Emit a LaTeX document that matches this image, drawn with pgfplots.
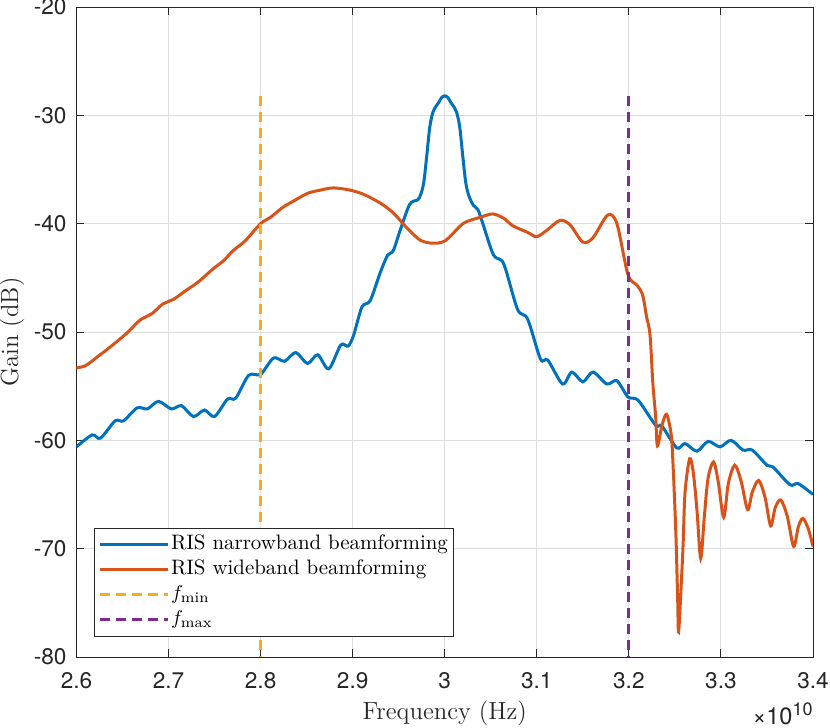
\documentclass[border=0pt]{standalone}
\usepackage{fontspec}
\newfontfamily\heros{TeX Gyre Heros}
\usepackage{pgfplots}
\pgfplotsset{compat=1.18}
\definecolor{mblue}{rgb}{0,0.447,0.741}
\definecolor{morange}{rgb}{0.850,0.325,0.098}
\definecolor{myellow}{rgb}{0.929,0.694,0.125}
\definecolor{mpurple}{rgb}{0.494,0.184,0.556}
\definecolor{axgray}{rgb}{0.15,0.15,0.15}
\begin{document}
\begin{tikzpicture}
\useasboundingbox (-38.25pt,-35.5pt) rectangle (376.75pt,328.5pt);
\begin{axis}[
  scale only axis, width=368.25pt, height=325pt,
  at={(0,0)}, anchor=south west,
  xmin=2.6, xmax=3.4, ymin=-80, ymax=-20,
  xtick={2.6,2.7,2.8,2.9,3.0,3.1,3.2,3.3,3.4},
  xticklabels={2.6,2.7,2.8,2.9,3,3.1,3.2,3.3,3.4},
  ytick={-80,-70,-60,-50,-40,-30,-20},
  yticklabels={-80,-70,-60,-50,-40,-30,-20},
  tick align=inside, xtick pos=both, ytick pos=both,
  major tick length=4pt,
  grid=major, major grid style={black!13, line width=0.5pt},
  axis line style={axgray, line width=0.5pt},
  every tick/.style={axgray, line width=0.5pt},
  tick label style={font=\fontsize{11.3}{13}\selectfont\heros, text=axgray},
  xticklabel style={yshift=-4pt},
  yticklabel style={xshift=-1.5pt},
  xlabel={Frequency (Hz)}, ylabel={Gain (dB)},
  label style={font=\fontsize{12.4}{14}\selectfont, text=axgray},
  xlabel style={at={(axis description cs:0.5,-0.086)}, anchor=center},
  ylabel style={at={(axis description cs:-0.0876,0.5)}, anchor=center},
  legend style={at={(axis description cs:0.0238,0.0308)}, anchor=south west,
    draw=axgray, line width=0.5pt, fill=white,
    font=\fontsize{10.45}{12}\selectfont,
    inner xsep=2pt, inner ysep=2pt, row sep=0pt,
    nodes={text height=8pt, text depth=3pt, inner sep=0.75pt}},
  legend cell align=left,
  legend image code/.code={\draw[#1] (0pt,0pt) -- (34pt,0pt);},
]
\addplot[mblue, line width=1.5pt, smooth] coordinates {
(2.600,-60.6) (2.617,-59.5) (2.626,-59.8) (2.642,-58.2) (2.651,-58.2)
(2.666,-57.0) (2.677,-57.1) (2.689,-56.4) (2.703,-57.1) (2.714,-56.8)
(2.727,-57.8) (2.739,-57.2) (2.750,-57.8) (2.764,-56.2) (2.773,-56.1)
(2.787,-54.0) (2.800,-53.9) (2.814,-52.4) (2.826,-52.7) (2.838,-51.9)
(2.851,-52.9) (2.862,-52.1) (2.874,-53.4) (2.887,-51.2) (2.895,-51.3)
(2.901,-50.3) (2.910,-47.7) (2.919,-47.1) (2.930,-44.5) (2.938,-42.9)
(2.944,-42.5) (2.952,-40.5) (2.962,-38.2) (2.9707,-37.8) (2.9739,-37.3)
(2.9772,-36.2) (2.9805,-33.7) (2.9837,-31.1) (2.9870,-29.75) (2.9902,-29.2)
(2.9935,-28.8) (2.9967,-28.35) (3.0000,-28.2) (3.0033,-28.35) (3.0065,-28.8)
(3.0098,-29.2) (3.0130,-29.75) (3.0163,-31.1) (3.0195,-33.7) (3.0228,-36.2)
(3.0261,-37.4) (3.031,-38.3) (3.036,-38.7) (3.041,-39.9) (3.053,-42.9)
(3.064,-43.7) (3.079,-47.9) (3.090,-48.8) (3.104,-52.5) (3.112,-52.6)
(3.128,-54.8) (3.138,-53.7) (3.150,-54.6) (3.161,-53.7) (3.176,-54.8)
(3.187,-54.5) (3.199,-56.0) (3.210,-56.3) (3.229,-58.6) (3.236,-58.7)
(3.252,-60.7) (3.261,-60.3) (3.274,-61.0) (3.286,-60.1) (3.299,-60.6)
(3.311,-60.0) (3.324,-60.9) (3.334,-60.9) (3.350,-62.3) (3.357,-62.5)
(3.375,-64.1) (3.384,-64.0) (3.400,-65.0)
};
\addlegendentry{RIS narrowband beamforming}
\addplot[morange, line width=1.5pt, smooth] coordinates {
(2.600,-53.3) (2.610,-53.1) (2.624,-52.2) (2.629,-51.9) (2.645,-50.8)
(2.656,-50.0) (2.669,-48.9) (2.682,-48.3) (2.694,-47.4) (2.705,-47.0)
(2.720,-46.1) (2.732,-45.4) (2.748,-44.2) (2.760,-43.4) (2.770,-42.5)
(2.783,-41.6) (2.800,-40.0) (2.811,-39.4) (2.824,-38.5) (2.836,-37.9)
(2.851,-37.2) (2.865,-36.9) (2.879,-36.7) (2.897,-36.9) (2.912,-37.3)
(2.930,-38.1) (2.944,-39.0) (2.959,-40.4) (2.973,-41.5) (2.986,-41.8)
(3.000,-41.6) (3.017,-40.2) (3.024,-39.8) (3.039,-39.4) (3.052,-39.1)
(3.064,-39.5) (3.074,-40.2) (3.090,-40.8) (3.100,-41.2) (3.111,-40.6)
(3.125,-39.7) (3.136,-40.1) (3.150,-41.7) (3.161,-41.3) (3.177,-39.2)
(3.187,-40.0) (3.199,-44.7) (3.209,-45.7) (3.215,-46.6) (3.219,-48.5)
(3.223,-50.3) (3.226,-54.7) (3.229,-57.7) (3.231,-60.5) (3.236,-58.6)
(3.241,-57.6) (3.246,-59.5) (3.248,-62.3) (3.251,-68.5) (3.253,-74.7)
(3.254,-77.7) (3.257,-73.1) (3.259,-69.4) (3.261,-64.8) (3.266,-61.7)
(3.270,-63.0) (3.274,-66.5) (3.278,-70.9) (3.282,-67.0) (3.286,-63.5)
(3.292,-62.0) (3.297,-63.8) (3.303,-67.1) (3.308,-64.0) (3.315,-62.3)
(3.322,-63.8) (3.329,-66.4) (3.334,-64.8) (3.341,-63.7) (3.348,-65.3)
(3.354,-67.9) (3.359,-66.2) (3.365,-65.5) (3.372,-67.0) (3.379,-69.8)
(3.384,-68.0) (3.389,-67.2) (3.395,-68.2) (3.400,-69.8)
};
\addlegendentry{RIS wideband beamforming}
\addplot[myellow, line width=1.5pt, dash pattern=on 5pt off 3pt] coordinates {(2.8,-28.2) (2.8,-80)};
\addlegendentry{$f_{\min}$}
\addplot[mpurple, line width=1.5pt, dash pattern=on 5pt off 3pt] coordinates {(3.2,-28.2) (3.2,-80)};
\addlegendentry{$f_{\max}$}
\end{axis}
\node[anchor=base east, inner sep=0pt, text=axgray, font=\fontsize{11.8}{13}\selectfont\heros] at (368.25pt,-34pt) {×10\raisebox{4.8pt}{\fontsize{9}{10}\selectfont 10}};
\end{tikzpicture}
\end{document}
